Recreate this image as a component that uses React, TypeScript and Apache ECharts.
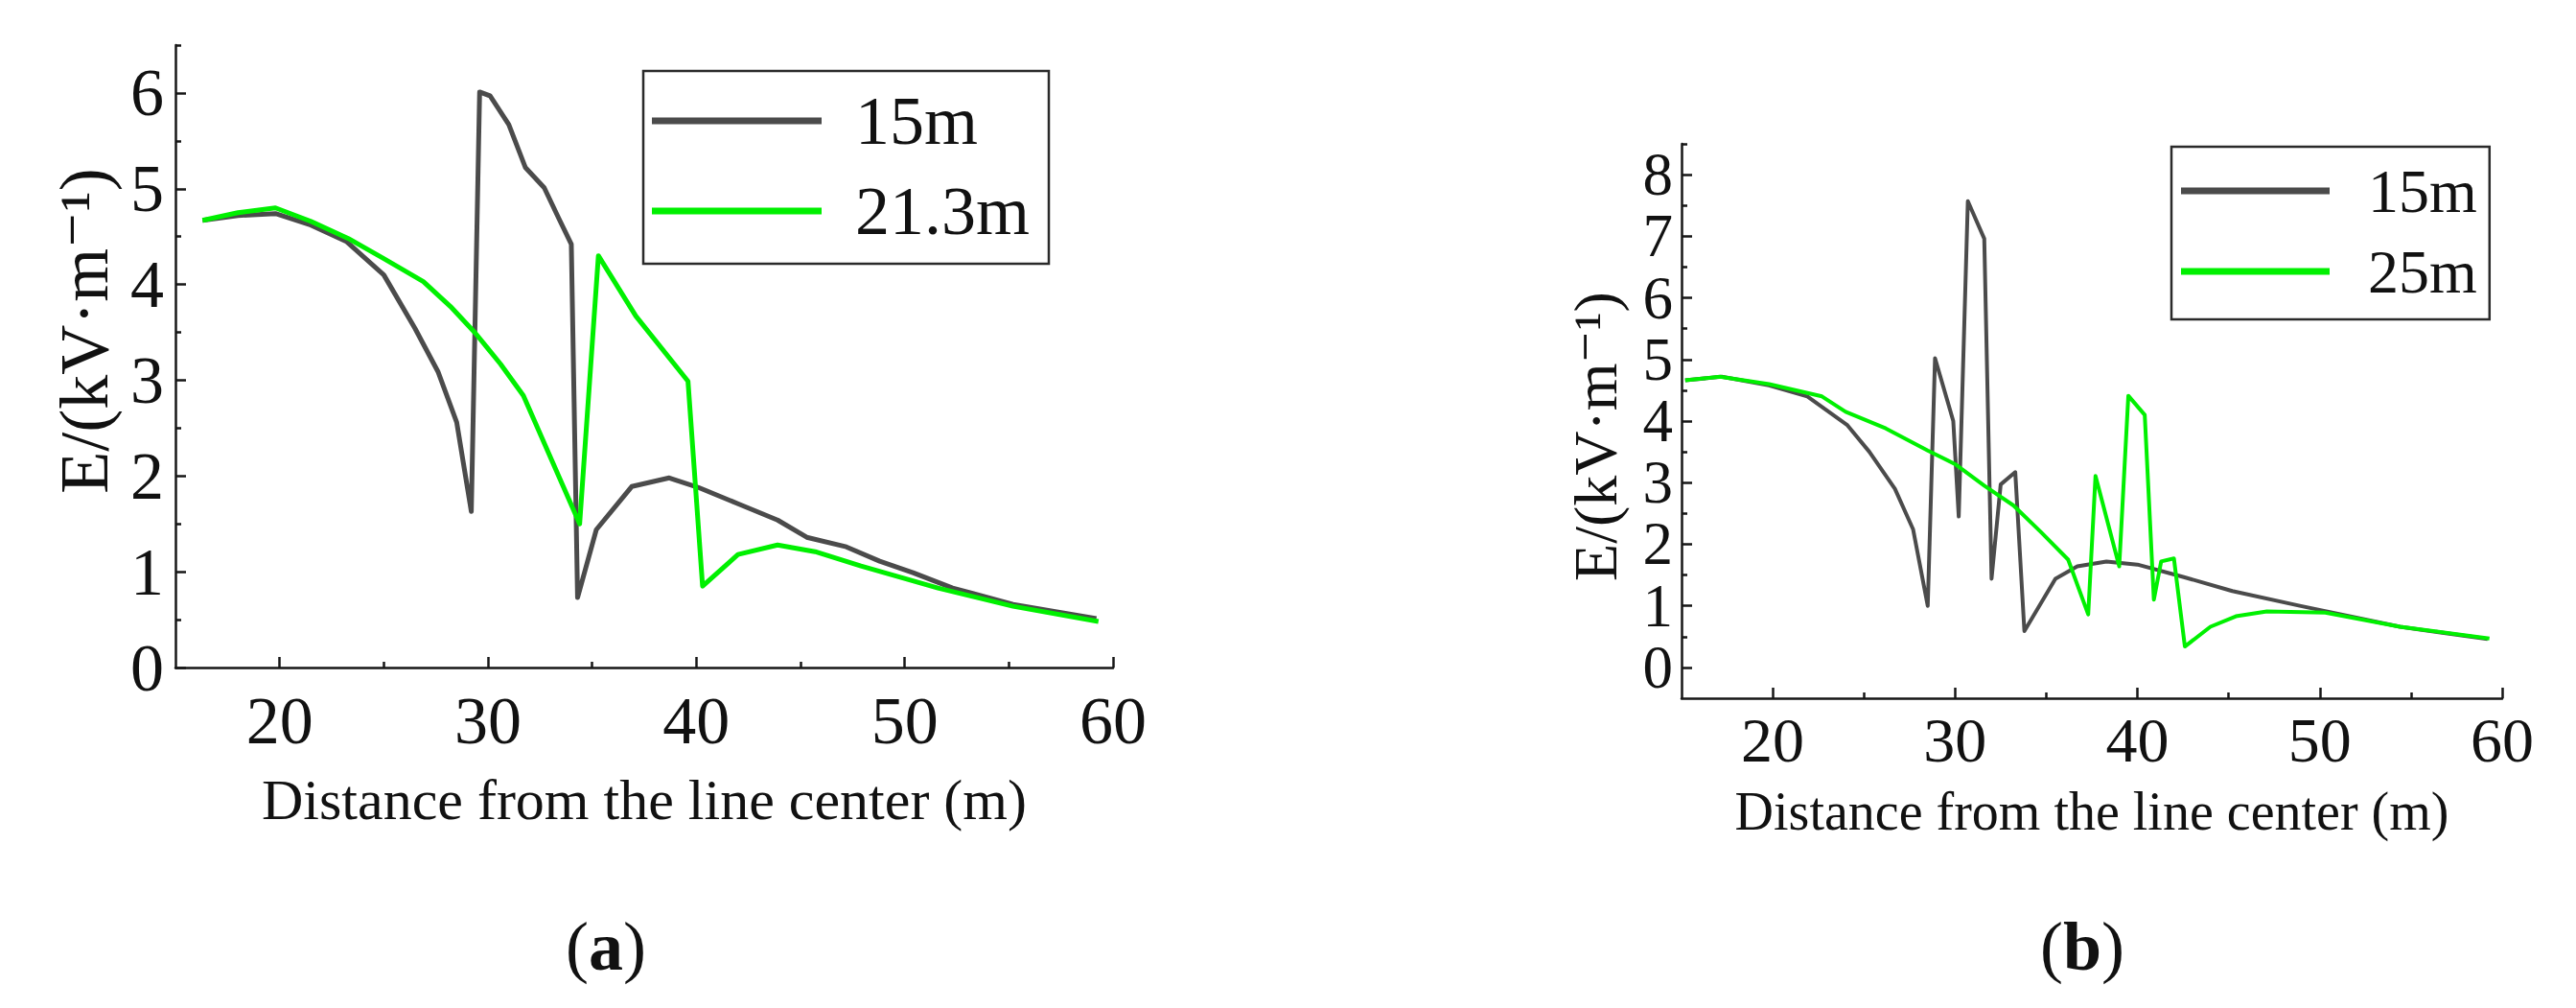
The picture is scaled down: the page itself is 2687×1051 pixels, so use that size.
import React, { useEffect, useRef } from "react";
import * as echarts from "echarts";

// (a) series: [distance m, E kV/m]
const a15m: number[][] = [[16.3,4.67],[18,4.72],[19.8,4.74],[21.5,4.62],[23.2,4.45],[25,4.1],[26.5,3.54],[27.6,3.09],[28.5,2.56],[29.2,1.63],[29.6,6.01],[30.1,5.97],[31,5.67],[31.8,5.22],[32.7,5.01],[33.4,4.69],[34,4.42],[34.3,0.73],[35.2,1.44],[36.9,1.89],[38.7,1.98],[40.1,1.88],[42,1.71],[43.9,1.54],[45.3,1.36],[47.2,1.26],[48.8,1.11],[50.4,0.99],[52.3,0.83],[55.2,0.66],[59.2,0.51]];
const a213m: number[][] = [[16.3,4.67],[18,4.75],[19.8,4.8],[21.5,4.66],[23.3,4.48],[25,4.27],[26.9,4.03],[28.2,3.77],[29.4,3.49],[30.6,3.17],[31.7,2.84],[34.4,1.5],[35.3,4.3],[37.1,3.67],[39.6,2.99],[40.3,0.85],[42,1.18],[43.9,1.28],[45.7,1.21],[47.9,1.06],[51.6,0.83],[55.2,0.64],[59.3,0.48]];
// (b) series
const b15m: number[][] = [[15.2,4.66],[17.2,4.72],[19.8,4.58],[21.9,4.4],[24.1,3.93],[25.3,3.5],[26.7,2.9],[27.7,2.24],[28.5,1.0],[28.9,5.02],[29.9,4.0],[30.2,2.45],[30.7,7.57],[31.6,6.96],[32.0,1.44],[32.5,2.97],[33.3,3.17],[33.8,0.59],[35.5,1.44],[36.7,1.64],[38.3,1.72],[40.0,1.67],[42.5,1.47],[45.2,1.24],[48.9,1.0],[54.4,0.66],[59.2,0.46]];
const b25m: number[][] = [[15.2,4.66],[17.1,4.72],[19.8,4.6],[22.7,4.4],[24.0,4.15],[26.2,3.88],[28.5,3.52],[30.0,3.3],[31.6,2.95],[33.2,2.63],[34.7,2.2],[36.2,1.75],[37.3,0.86],[37.7,3.11],[39.0,1.64],[39.5,4.41],[40.4,4.1],[40.9,1.1],[41.3,1.72],[42.0,1.77],[42.6,0.34],[44.0,0.66],[45.4,0.83],[47.1,0.91],[50.3,0.89],[54.4,0.66],[59.3,0.47]];

const xMajor = [20, 30, 40, 50, 60];
const xMinor = [25, 35, 45, 55];
const aYMajor = [0, 1, 2, 3, 4, 5, 6];
const aYMinor = [0.5, 1.5, 2.5, 3.5, 4.5, 5.5, 6.5];
const bYMajor = [0, 1, 2, 3, 4, 5, 6, 7, 8];
const bYLabelsEven = [0, 2, 4, 6, 8];
const bYLabelsOdd = [1, 3, 5, 7];
const bYMinor = [0.5, 1.5, 2.5, 3.5, 4.5, 5.5, 6.5, 7.5, 8.5];

const xName = "Distance from the line center (m)";
const yName = "E/(kV·m⁻¹)";
const legendA = ["15m", "21.3m"];
const legendB = ["15m", "25m"];

const FONT = "'Liberation Serif', 'Times New Roman', 'DejaVu Serif', serif";
const GRAY = "#4b4b4b";
const GREEN = "#00f000";
const AXIS = "#161616";

function mainAxis(grid: number, min: number, max: number, ticks: number[], labels: number[], fs: number, margin: number, extra: any = {}) {
  return {
    type: "value", gridIndex: grid, min, max,
    axisLine: { show: true, onZero: false, lineStyle: { color: AXIS, width: 2.5 } },
    axisTick: { show: true, inside: true, length: 11, customValues: ticks, lineStyle: { color: AXIS, width: 2.5 } },
    axisLabel: { show: true, customValues: labels, showMinLabel: true, showMaxLabel: true, hideOverlap: false, fontFamily: FONT, fontSize: fs, lineHeight: fs, color: "#111", margin },
    splitLine: { show: false },
    ...extra,
  };
}
function minorAxis(grid: number, min: number, max: number, minor: number[], pos: string) {
  return {
    type: "value", gridIndex: grid, min, max, position: pos,
    axisLine: { show: false, onZero: false },
    axisTick: { show: true, inside: true, length: 6, customValues: minor, lineStyle: { color: AXIS, width: 2.5 } },
    axisLabel: { show: false },
    splitLine: { show: false },
  };
}
function labelOnlyAxis(grid: number, min: number, max: number, labels: number[], fs: number, margin: number) {
  return {
    type: "value", gridIndex: grid, min, max, position: "left",
    axisLine: { show: false, onZero: false },
    axisTick: { show: false },
    axisLabel: { show: true, customValues: labels, showMinLabel: true, showMaxLabel: true, fontFamily: FONT, fontSize: fs, lineHeight: fs, color: "#111", margin },
    splitLine: { show: false },
  };
}

export default function App() {
  const ref = useRef<HTMLDivElement>(null);
  useEffect(() => {
    if (!ref.current) return;
    const chart = echarts.init(ref.current, undefined, { renderer: "svg" });
    const line = (name: string, data: number[][], color: string, xi: number, yi: number, w: number) => ({
      type: "line", name, data, xAxisIndex: xi, yAxisIndex: yi, symbol: "none", showSymbol: false,
      lineStyle: { color, width: w, join: "round" }, itemStyle: { color }, z: color === GREEN ? 3 : 2,
    });
    const legend = (data: string[], left: number, top: number, fs: number, w: number, gap: number, tgap: number, pad: number[]) => ({
      data, orient: "vertical", left, top, icon: "rect", itemWidth: w, itemHeight: 7, itemGap: gap,
      padding: pad, borderColor: "#2a2a2a", borderWidth: 2.5, borderRadius: 0, backgroundColor: "#fff", selectedMode: false,
      textStyle: { fontFamily: FONT, fontSize: fs, lineHeight: fs, color: "#111", padding: [0, 0, 0, tgap] },
    });
    chart.setOption({
      animation: false,
      backgroundColor: "#fff",
      grid: [
        { left: 183, top: 47, width: 978, height: 649 },
        { left: 1754, top: 150, width: 856, height: 578 },
      ],
      xAxis: [
        mainAxis(0, 15, 60, xMajor, xMajor, 70, 20, { name: xName, nameLocation: "middle", nameGap: 108, nameTextStyle: { fontFamily: FONT, fontSize: 60, color: "#111" } }),
        minorAxis(0, 15, 60, xMinor, "bottom"),
        mainAxis(1, 15, 60, xMajor, xMajor, 66, 10, { name: xName, nameLocation: "middle", nameGap: 90, nameTextStyle: { fontFamily: FONT, fontSize: 56, color: "#111" } }),
        minorAxis(1, 15, 60, xMinor, "bottom"),
      ],
      yAxis: [
        mainAxis(0, 0, 6.5, aYMajor, aYMajor, 70, 12),
        minorAxis(0, 0, 6.5, aYMinor, "left"),
        mainAxis(1, -0.5, 8.5, bYMajor, bYLabelsEven, 63, 9),
        minorAxis(1, -0.5, 8.5, bYMinor, "left"),
        labelOnlyAxis(1, -0.5, 8.5, bYLabelsOdd, 63, 9),
      ],
      legend: [
        legend(legendA, 671, 74, 72, 177, 22, 30, [16, 20, 19, 9]),
        legend(legendB, 2265, 153, 64, 155, 20, 35, [14, 13, 18, 10]),
      ],
      graphic: [
        { type: "text", x: 88, y: 345, rotation: Math.PI / 2, style: { text: yName, fontFamily: FONT, fontSize: 72, fill: "#111", align: "center", verticalAlign: "middle" } },
        { type: "text", x: 1664, y: 455, rotation: Math.PI / 2, style: { text: yName, fontFamily: FONT, fontSize: 64, fill: "#111", align: "center", verticalAlign: "middle" } },
        { type: "text", x: 632, y: 987, style: { text: "{p|(}{b|a}{p|)}", align: "center", verticalAlign: "middle", rich: { p: { fontFamily: FONT, fontSize: 72, fill: "#111" }, b: { fontFamily: FONT, fontSize: 72, fontWeight: "bold", fill: "#111" } } } },
        { type: "text", x: 2172, y: 987, style: { text: "{p|(}{b|b}{p|)}", align: "center", verticalAlign: "middle", rich: { p: { fontFamily: FONT, fontSize: 72, fill: "#111" }, b: { fontFamily: FONT, fontSize: 72, fontWeight: "bold", fill: "#111" } } } },
      ],
      series: [
        line(legendA[0], a15m, GRAY, 0, 0, 5),
        line(legendA[1], a213m, GREEN, 0, 0, 5),
        line(legendB[0], b15m, GRAY, 2, 2, 4),
        line(legendB[1], b25m, GREEN, 2, 2, 4),
      ],
    });
    return () => chart.dispose();
  }, []);
  return <div ref={ref} style={{ position: "fixed", left: 0, top: 0, width: 2687, height: 1051, background: "#fff" }} />;
}
